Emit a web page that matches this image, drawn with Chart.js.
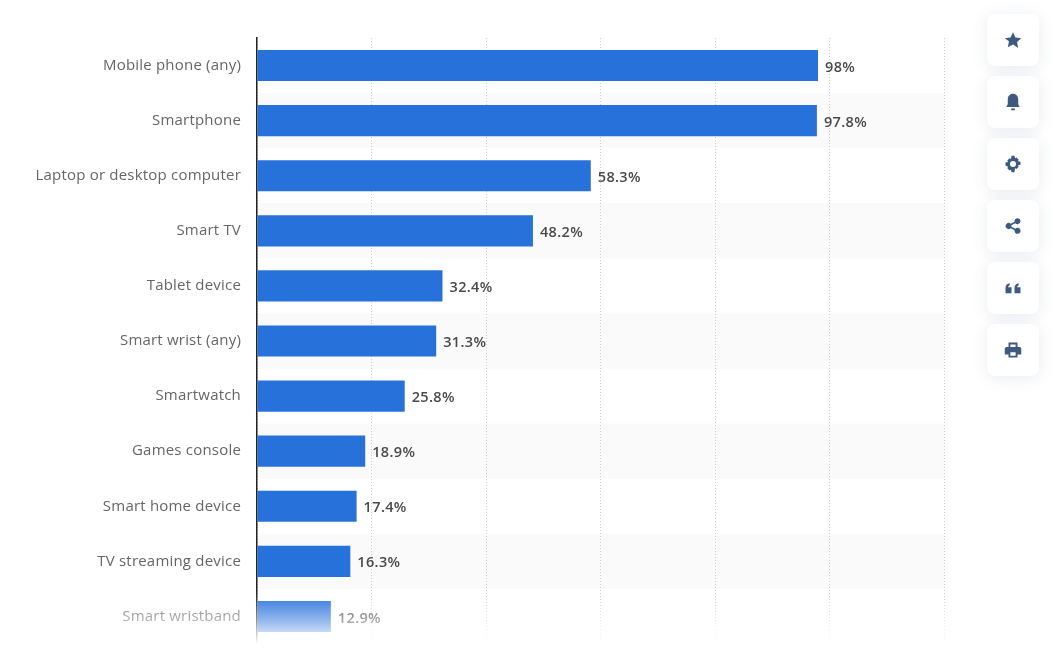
<!DOCTYPE html>
<html>
<head>
<meta charset="utf-8">
<script src="https://cdn.jsdelivr.net/npm/chart.js@4"></script>
<style>
    html, body { margin: 0; padding: 0; background: #fff; overflow: hidden; }
    #wrap { position: relative; width: 1053px; height: 649px; overflow: hidden; }
    #fade {
        position: absolute; left: 0; top: 592px; width: 960px; height: 57px;
        background: linear-gradient(to bottom, rgba(255,255,255,0), rgba(255,255,255,0.5) 50%, rgba(255,255,255,1) 92%);
    }
    .tool {
        position: absolute; left: 987px; width: 52px; height: 52px; border-radius: 8px;
        background: #fff; box-shadow: 0 2px 16px rgba(70,90,130,0.12);
        display: flex; align-items: center; justify-content: center;
    }
    .tool svg { width: 18px; height: 18px; fill: #3f5a80; }
</style>
</head>
<body>
<div id="wrap">
    <canvas id="chart" width="1053" height="669"></canvas>
    <div id="fade"></div>
    <div class="tool" style="top:14px"><svg viewBox="0 0 24 24"><path d="M12 1.500l3.300 7 7.700 1-5.600 5.300 1.400 7.700L12 18l-6.800 3.500 1.400-7.700L1 9.500l7.700-1z"/></svg></div>
    <div class="tool" style="top:76px"><svg viewBox="0 0 24 24"><path d="M12 1c-4.500 0-7 3.500-7 8v5c0 2-1 3-2 4.500h18c-1-1.500-2-2.500-2-4.500V9c0-4.500-2.500-8-7-8zM9.500 20.500h5V23h-5z"/></svg></div>
    <div class="tool" style="top:138px"><svg viewBox="0 0 24 24"><path fill-rule="evenodd" d="M10 1h4l.7 3.200 2-.9 2.900 2.900-1 2 3.400.8v4l-3.400.8 1 2-2.900 2.900-2-1L14 23h-4l-.7-3.300-2 1-2.900-2.900 1-2L2 14v-4l3.400-.8-1-2 2.900-2.900 2 .9zM12 8a4 4 0 1 0 0 8 4 4 0 0 0 0-8z"/></svg></div>
    <div class="tool" style="top:200px"><svg viewBox="0 0 24 24"><path d="M18 1.500a4 4 0 1 1-2.900 6.800L9.800 11a4 4 0 0 1 0 2l5.300 2.700a4 4 0 1 1-1 2L8.800 15a4 4 0 1 1 0-6l5.300-2.700A4 4 0 0 1 18 1.500z"/></svg></div>
    <div class="tool" style="top:262px"><svg viewBox="0 0 24 24"><path d="M2 19v-7c0-3.500 2-6 5.500-6.500v3C6 9 5.500 10 5.500 11H10v8zM14 19v-7c0-3.500 2-6 5.500-6.500v3c-1.500.5-2 1.500-2 2.500H22v8z"/></svg></div>
    <div class="tool" style="top:324px"><svg viewBox="0 0 24 24"><path fill-rule="evenodd" d="M6 2h12v6h2.500A2.500 2.500 0 0 1 23 10.500V18h-5v4H6v-4H1v-7.500A2.500 2.500 0 0 1 3.500 8H6zM8.500 4.500V8h7V4.500zM8.500 15v4.500h7V15z"/></svg></div>
</div>
<script>
const categories = ['Mobile phone (any)', 'Smartphone', 'Laptop or desktop computer', 'Smart TV', 'Tablet device',
    'Smart wrist (any)', 'Smartwatch', 'Games console', 'Smart home device', 'TV streaming device', 'Smart wristband'];
const shareValues = [98, 97.8, 58.3, 48.2, 32.4, 31.3, 25.8, 18.9, 17.4, 16.3, 12.9];
const FONT = '"Open Sans", sans-serif';

// grey band behind every second row
const bandsPlugin = {
    id: 'bands',
    beforeDraw(chart) {
        const { ctx, chartArea, scales } = chart;
        ctx.letterSpacing = '0.2px';
        const half = (scales.y.getPixelForValue(1) - scales.y.getPixelForValue(0)) / 2;
        ctx.save();
        ctx.fillStyle = '#fafafa';
        categories.forEach((c, i) => {
            if (i % 2 === 1) {
                const mid = scales.y.getPixelForValue(i);
                ctx.fillRect(chartArea.left, mid - half, chartArea.right - chartArea.left, half * 2);
            }
        });
        ctx.restore();
    }
};

const valueLabelsPlugin = {
    id: 'valueLabels',
    afterDatasetsDraw(chart) {
        const { ctx } = chart;
        ctx.save();
        ctx.letterSpacing = '0.35px';
        ctx.font = '600 14.5px ' + FONT;
        ctx.fillStyle = '#4a4a4a';
        ctx.textBaseline = 'middle';
        chart.getDatasetMeta(0).data.forEach((bar, i) => {
            ctx.fillText(shareValues[i] + '%', bar.x + 7, bar.y + 2);
        });
        ctx.restore();
    }
};

new Chart(document.getElementById('chart'), {
    type: 'bar',
    data: {
        labels: categories,
        datasets: [{
            data: shareValues,
            backgroundColor: '#2771db',
            categoryPercentage: 1,
            barPercentage: 0.565
        }]
    },
    options: {
        indexAxis: 'y',
        responsive: false,
        animation: false,
        layout: { padding: { top: 38, right: 109, bottom: 5, left: 0 } },
        plugins: { legend: { display: false }, tooltip: { enabled: false } },
        scales: {
            x: {
                min: 0,
                max: 120,
                afterFit(axis) { axis.height = 0; },
                ticks: { display: false, stepSize: 20 },
                border: { display: false, dash: [1, 2] },
                grid: { color: '#cfcfcf', drawTicks: false, lineWidth: 1 }
            },
            y: {
                afterFit(axis) { axis.width = 257; },
                border: { color: '#222', width: 1.5 },
                grid: { display: false, drawTicks: false },
                ticks: {
                    padding: 16,
                    color: '#666',
                    font: { family: FONT, size: 15 }
                }
            }
        }
    },
    plugins: [bandsPlugin, valueLabelsPlugin]
});
</script>
</body>
</html>
